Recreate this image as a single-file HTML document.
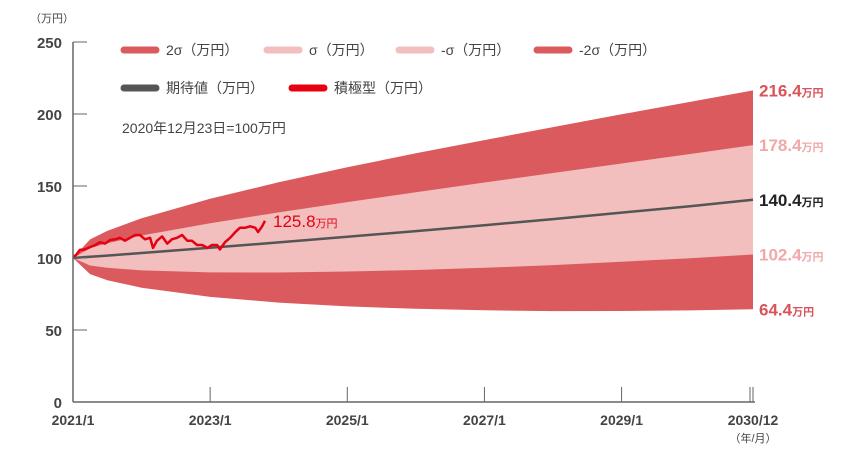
<!DOCTYPE html>
<html><head><meta charset="utf-8"><style>
body{margin:0;background:#fff}
svg{display:block;font-family:"Liberation Sans","Noto Sans CJK JP",sans-serif}
</style></head><body>
<svg id="chart" width="865" height="464" viewBox="0 0 865 464">
<g id="bands"></g><g id="lines"></g><g id="axes"></g><g id="labels"></g>
<g font-size="14" fill="#444">
 <line x1="124" y1="50" x2="156" y2="50" stroke="#db5a5e" stroke-width="7" stroke-linecap="round"/>
 <text x="166" y="55">2σ（万円）</text>
 <line x1="267" y1="50" x2="299" y2="50" stroke="#f2bebe" stroke-width="7" stroke-linecap="round"/>
 <text x="309" y="55">σ（万円）</text>
 <line x1="399" y1="50" x2="431" y2="50" stroke="#f2bebe" stroke-width="7" stroke-linecap="round"/>
 <text x="441" y="55">-σ（万円）</text>
 <line x1="537" y1="50" x2="569" y2="50" stroke="#db5a5e" stroke-width="7" stroke-linecap="round"/>
 <text x="579" y="55">-2σ（万円）</text>
 <line x1="124" y1="88" x2="156" y2="88" stroke="#555" stroke-width="7" stroke-linecap="round"/>
 <text x="166" y="93">期待値（万円）</text>
 <line x1="292" y1="88" x2="324" y2="88" stroke="#e60012" stroke-width="7" stroke-linecap="round"/>
 <text x="334" y="93">積極型（万円）</text>
 <text x="122" y="133">2020年12月23日=100万円</text>
</g>
<text x="30" y="22" font-size="11" fill="#444">（万円）</text>
<text x="753" y="442" font-size="11" fill="#444" text-anchor="middle">（年/月）</text>
</svg>
<script>
const bandMonths=[0,3,6,12,24,36,48,60,72,84,96,108,119];
const plus2=[100,112.9,118.8,127.6,141.2,152.6,163.0,172.7,181.9,190.9,199.8,208.4,216.4];
const plus1=[100,106.9,110.2,115.6,124.2,131.7,138.8,145.7,152.4,159.0,165.6,172.2,178.4];
const expected=[100,100.9,101.7,103.5,107.1,110.8,114.7,118.7,122.8,127.0,131.5,136.0,140.4];
const minus1=[100,94.8,93.2,91.4,90.0,89.9,90.6,91.7,93.2,95.1,97.4,99.8,102.4];
const minus2=[100,88.8,84.6,79.4,73.0,69.0,66.4,64.7,63.7,63.1,63.2,63.6,64.4];
const actMonths=[0,0.5,1.2,2.1,3,3.9,4.7,5.6,6.5,7.4,8.2,9.1,10,10.9,11.7,12.6,13.5,14,14.7,15.6,16.5,17.3,18.2,19.1,20,20.8,21.7,22.6,23.5,24.3,25.2,25.7,26.6,27.5,28.4,29.2,30.1,31,31.9,32.4,33.1,33.6];
const actual=[100.7,102,105.6,106,107.6,109,111,110,112.5,113,114,112,114,116,116,113,114,107,112,115,110,113,114,116,112,112,109,109,107,109,109,106,111,114,118,121,121,122,121,118,122,125.8];
const yTicks=[0,50,100,150,200,250];
const xTickMonths=[0,24,48,72,96,119];
const xTickLabels=["2021/1","2023/1","2025/1","2027/1","2029/1","2030/12"];
const endLabels=["216.4","178.4","140.4","102.4","64.4"];
const endColors=["#d9545a","#f0a8aa","#222","#f0a8aa","#d9545a"];

const NS="http://www.w3.org/2000/svg";
const X=m=>73+m*(753-73)/119;
const Y=v=>402-v*1.44;
function mk(tag,parent,attrs){const e=document.createElementNS(NS,tag);for(const k in attrs)e.setAttribute(k,attrs[k]);document.getElementById(parent).appendChild(e);return e;}
function pts(ms,vs){return ms.map((m,i)=>X(m).toFixed(1)+","+Y(vs[i]).toFixed(1));}
function band(up,lo,color,name){
 const d="M"+pts(bandMonths,up).join("L")+"L"+pts(bandMonths,lo).reverse().join("L")+"Z";
 const p=mk("path","bands",{d:d,fill:color});
 
 
}
band(plus2,minus2,"#db5a5e","band-2sigma");
band(plus1,minus1,"#f2bebe","band-sigma");
const e=mk("polyline","lines",{points:pts(bandMonths,expected).join(" "),fill:"none",stroke:"#555","stroke-width":2.5});


const a=mk("polyline","lines",{points:pts(actMonths,actual).join(" "),fill:"none",stroke:"#e60012","stroke-width":2.5,"stroke-linejoin":"round"});


const lastM=actMonths[actMonths.length-1],lastV=actual[actual.length-1];
const lt=mk("text","labels",{x:X(lastM)+8,y:Y(lastV)+6,fill:"#e60012","font-size":17});


lt.innerHTML=lastV.toFixed(1)+'<tspan font-size="11">万円</tspan>';
// axes
const ya=mk("line","axes",{x1:73,y1:42,x2:73,y2:402,stroke:"#666","stroke-width":1.5});


const xa=mk("line","axes",{x1:73,y1:402,x2:755,y2:402,stroke:"#666","stroke-width":1.5});


yTicks.forEach(v=>{
 const t=mk("line","axes",{x1:73,y1:Y(v),x2:87,y2:Y(v),stroke:"#666","stroke-width":1});
 
 
 const l=mk("text","axes",{x:62,y:Y(v)+6,"text-anchor":"end","font-size":15,fill:"#444","font-weight":"bold"});
 
 
 l.textContent=v;
});
xTickMonths.forEach((m,i)=>{
 const t=mk("line","axes",{x1:X(m),y1:387,x2:X(m),y2:402,stroke:"#666","stroke-width":1});
 
 
 const l=mk("text","axes",{x:X(m),y:425,"text-anchor":"middle","font-size":14,fill:"#444","font-weight":"bold"});
 
 
 l.textContent=xTickLabels[i];
});
const t2=mk("line","axes",{x1:X(119)-3,y1:387,x2:X(119)-3,y2:402,stroke:"#666","stroke-width":1});


const ends=[plus2,plus1,expected,minus1,minus2];
ends.forEach((s,i)=>{
 const l=mk("text","labels",{x:759,y:Y(s[s.length-1])+6,"font-size":17,fill:endColors[i],"font-weight":"bold"});
 
 
 l.innerHTML=endLabels[i]+'<tspan font-size="11">万円</tspan>';
});
</script>
</body></html>
